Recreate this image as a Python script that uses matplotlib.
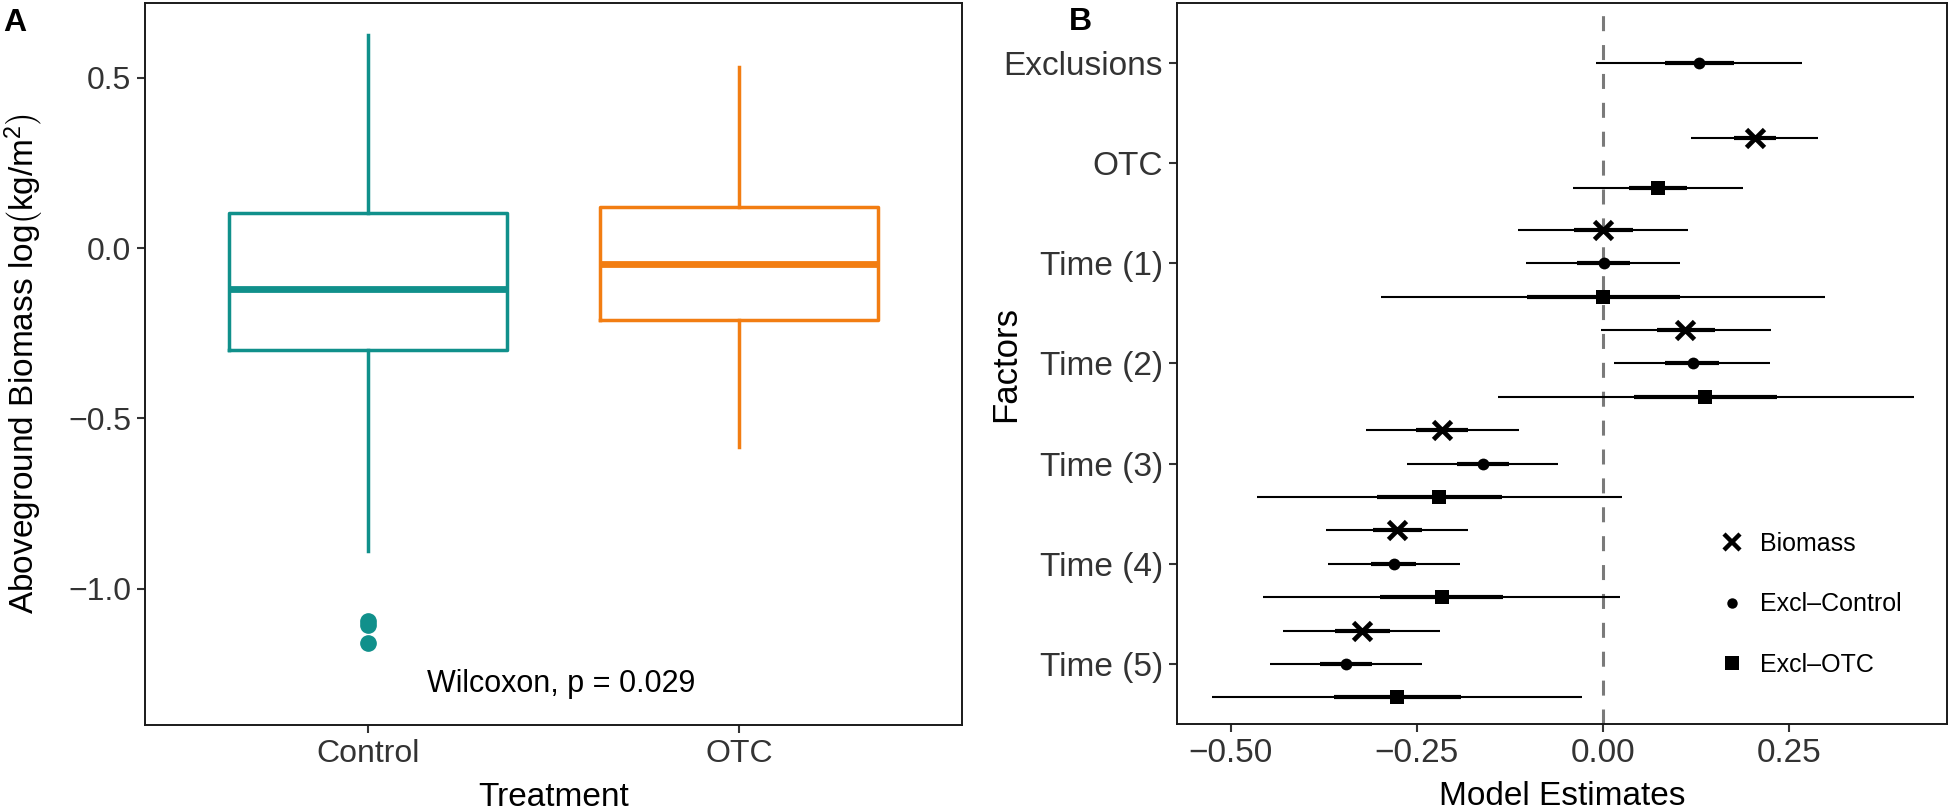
import numpy as np
import matplotlib
matplotlib.use("Agg")
import matplotlib.pyplot as plt
from matplotlib.lines import Line2D

plt.rcParams['font.family'] = ['Liberation Sans', 'DejaVu Sans']
plt.rcParams['mathtext.fontset'] = 'custom'
plt.rcParams['mathtext.rm'] = 'Liberation Sans'
plt.rcParams['mathtext.it'] = 'Liberation Sans:italic'
plt.rcParams['lines.scale_dashes'] = False

# ---------------- Panel A data ----------------
groups = ["Control", "OTC"]
box_q1 = [-0.300, -0.210]
box_median = [-0.119, -0.046]
box_q3 = [0.104, 0.122]
whisker_low = [-0.890, -0.584]
whisker_high = [0.625, 0.532]
outliers = [[-1.095, -1.105, -1.160], []]
group_colors = ["#10908B", "#F27D12"]
wilcox_label = "Wilcoxon, p = 0.029"

# ---------------- Panel B data ----------------
factors = ["Exclusions", "OTC", "Time (1)", "Time (2)", "Time (3)", "Time (4)", "Time (5)"]
models = ["Biomass", "Excl\u2013Control", "Excl\u2013OTC"]
nan = np.nan
est = {
    "Biomass":      [nan, 0.2035, 0.000, 0.1108, -0.2156, -0.2768, -0.3240],
    "Excl\u2013Control": [0.129, nan, 0.001, 0.1204, -0.1613, -0.2812, -0.3451],
    "Excl\u2013OTC":     [nan, 0.0741, 0.000, 0.1370, -0.2199, -0.2165, -0.2760],
}
inner_lo = {
    "Biomass":      [nan, 0.1755, -0.0388, 0.0732, -0.2514, -0.3093, -0.3599],
    "Excl\u2013Control": [0.0828, nan, -0.0353, 0.0837, -0.1964, -0.3118, -0.3801],
    "Excl\u2013OTC":     [nan, 0.0347, -0.1019, 0.0416, -0.3031, -0.2996, -0.3616],
}
inner_hi = {
    "Biomass":      [nan, 0.2325, 0.0399, 0.1510, -0.1806, -0.2436, -0.2864],
    "Excl\u2013Control": [0.1755, nan, 0.0364, 0.1563, -0.1263, -0.2506, -0.3101],
    "Excl\u2013OTC":     [nan, 0.1134, 0.1029, 0.2342, -0.1351, -0.1342, -0.1902],
}
outer_lo = {
    "Biomass":      [nan, 0.1187, -0.1141, -0.0030, -0.3188, -0.3722, -0.4291],
    "Excl\u2013Control": [-0.009, nan, -0.1027, 0.0154, -0.2637, -0.3696, -0.4475],
    "Excl\u2013OTC":     [nan, -0.0406, -0.2978, -0.1412, -0.4641, -0.4562, -0.5254],
}
outer_hi = {
    "Biomass":      [nan, 0.2885, 0.1143, 0.2263, -0.1132, -0.1806, -0.2182],
    "Excl\u2013Control": [0.2674, nan, 0.1029, 0.2246, -0.0599, -0.1920, -0.2427],
    "Excl\u2013OTC":     [nan, 0.1887, 0.2980, 0.4180, 0.0251, 0.0224, -0.0275],
}
model_markers = {"Biomass": "x", "Excl\u2013Control": "o", "Excl\u2013OTC": "s"}
model_msize = {"Biomass": 13, "Excl\u2013Control": 8.5, "Excl\u2013OTC": 10.5}

# ---------------- Figure ----------------
W, H = 1950, 810
fig = plt.figure(figsize=(W / 100, H / 100), dpi=100)

def px_axes(l, t, r, b):
    return fig.add_axes([l / W, 1 - b / H, (r - l) / W, (b - t) / H])

TXT = "#333333"

def style(ax, fs):
    for s in ax.spines.values():
        s.set_linewidth(1.4)
        s.set_color("#1a1a1a")
    ax.tick_params(axis='both', length=6, width=1.5, color="#333333",
                   labelsize=fs, labelcolor=TXT, pad=4)

# ---- Panel A ----
axA = px_axes(145, 3, 962, 725)
stats = []
for i, g in enumerate(groups):
    stats.append(dict(label=g, med=box_median[i], q1=box_q1[i], q3=box_q3[i],
                      whislo=whisker_low[i], whishi=whisker_high[i],
                      fliers=outliers[i]))
positions = np.arange(1, len(groups) + 1)
bp = axA.bxp(stats, positions=positions, widths=0.75, showcaps=False,
             patch_artist=False)
for i, c in enumerate(group_colors):
    bp['boxes'][i].set(color=c, linewidth=2.5)
    bp['medians'][i].set(color=c, linewidth=4.9, solid_capstyle='butt')
    for w in bp['whiskers'][2 * i:2 * i + 2]:
        w.set(color=c, linewidth=2.5)
    bp['fliers'][i].set(marker='o', markerfacecolor=c, markeredgecolor=c,
                        markersize=11, linestyle='none')
axA.set_xlim(0.4, 2.6)
axA.set_ylim(-1.40, 0.72)
axA.set_yticks([-1.0, -0.5, 0.0, 0.5])
axA.set_yticklabels(["\u22121.0", "\u22120.5", "0.0", "0.5"])
style(axA, 23)
axA.text(1.52, -1.304, wilcox_label, ha='center', va='baseline', fontsize=22,
         color='black')
axA.set_xlabel("Treatment", fontsize=24)
axA.xaxis.set_label_coords(0.5, -0.112)
axA.xaxis.label.set_va('baseline')
axA.set_ylabel(r"Aboveground Biomass log$\left(\mathrm{kg/m}^{2}_{\,}\right)$", fontsize=24)
axA.yaxis.set_label_coords(-0.148, 0.5)
axA.yaxis.label.set_va('center')

# ---- Panel B ----
axB = px_axes(1177, 3, 1947, 724)
nf = len(factors)
ypos = nf - np.arange(nf)  # Exclusions at top
axB.axvline(0, color="#7a7a7a", linewidth=2.2, dashes=(10.8, 10), zorder=1)
for fi in range(nf):
    present = [m for m in models if not np.isnan(est[m][fi])]
    n = len(present)
    for k, m in enumerate(present):
        off = 0.5 - (k + 0.5) / n
        y = ypos[fi] + off
        axB.plot([outer_lo[m][fi], outer_hi[m][fi]], [y, y], color='black',
                 linewidth=1.5, solid_capstyle='butt', zorder=2)
        axB.plot([inner_lo[m][fi], inner_hi[m][fi]], [y, y], color='black',
                 linewidth=3.0, solid_capstyle='butt', zorder=3)
        mk = model_markers[m]
        if mk == 'x':
            axB.plot([est[m][fi]], [y], marker='x', color='black',
                     markersize=model_msize[m], markeredgewidth=3.4, zorder=4)
        else:
            axB.plot([est[m][fi]], [y], marker=mk, color='black',
                     markersize=model_msize[m], markeredgewidth=0, zorder=4)
axB.set_xlim(-0.572, 0.462)
axB.set_ylim(0.4, nf + 0.6)
axB.set_xticks([-0.50, -0.25, 0.0, 0.25])
axB.set_xticklabels(["\u22120.50", "\u22120.25", "0.00", "0.25"])
axB.set_yticks(ypos)
axB.set_yticklabels(factors)
style(axB, 24)
axB.set_xlabel("Model Estimates", fontsize=24)
axB.xaxis.set_label_coords(0.5, -0.1123)
axB.xaxis.label.set_va('baseline')
axB.set_ylabel("Factors", fontsize=25)
axB.yaxis.set_label_coords(-0.222, 0.5)
axB.yaxis.label.set_va('center')

handles = []
for m in models:
    mk = model_markers[m]
    if mk == 'x':
        h = Line2D([], [], marker='x', color='black', linestyle='none',
                   markersize=12, markeredgewidth=3.2)
    else:
        h = Line2D([], [], marker=mk, color='black', linestyle='none',
                   markersize=model_msize[m] - 1, markeredgewidth=0)
    handles.append(h)
leg = axB.legend(handles, models, loc='upper left',
                 bbox_to_anchor=((1722 - 1177) / 770, 1 - (532 - 3) / 721),
                 frameon=False, fontsize=18, handlelength=0.8,
                 handletextpad=0.7, labelspacing=1.45, borderpad=0,
                 borderaxespad=0)

# Panel tags
fig.text(3 / W, 1 - 8 / H, "A", fontsize=23, fontweight='bold', ha='left', va='top')
fig.text(1080 / W, 1 - 7 / H, "B", fontsize=23, fontweight='bold', ha='center', va='top')

fig.savefig("out.png", dpi=100)
